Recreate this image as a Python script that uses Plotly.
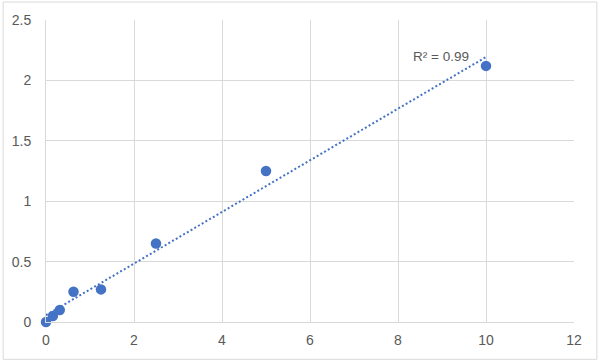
import numpy as np
import plotly.graph_objects as go

x_vals = [0, 0.156, 0.3125, 0.625, 1.25, 2.5, 5, 10]
y_vals = [0, 0.05, 0.10, 0.25, 0.27, 0.65, 1.25, 2.12]
r2_label = "R² = 0.99"

slope, intercept = np.polyfit(x_vals, y_vals, 1)
tx = [0, 10]
ty = [intercept + slope * v for v in tx]

color = "#4472C4"
font_family = "Liberation Sans, Arial"
fig = go.Figure()
fig.add_trace(go.Scatter(x=tx, y=ty, mode="lines",
                         line=dict(color=color, width=2, dash="2px,2.3px"),
                         hoverinfo="skip", showlegend=False, cliponaxis=False))
fig.add_trace(go.Scatter(x=x_vals, y=y_vals, mode="markers",
                         marker=dict(color=color, size=10.5), showlegend=False,
                         cliponaxis=False))

W, H = 600, 361
ml, mr, mt, mb = 44, 26, 19, 39.4
pw, ph = W - ml - mr, H - mt - mb

fig.add_annotation(x=10, y=ty[1], xref="x", yref="y", text=r2_label,
                   showarrow=False, xanchor="right", yanchor="middle",
                   xshift=-15, yshift=1,
                   font=dict(size=13.5, color="#595959", family=font_family))

# chart-area border
fig.add_shape(type="rect", xref="paper", yref="paper",
              x0=(1 - ml) / pw, x1=(597 - ml) / pw,
              y0=(H - mb - 359) / ph, y1=(H - mb - 1) / ph,
              line=dict(color="#D9D9D9", width=1), fillcolor="rgba(0,0,0,0)", layer="below")

axis_common = dict(showgrid=True, gridcolor="#D9D9D9", gridwidth=1,
                   zeroline=False, showline=True, linecolor="#D9D9D9", linewidth=1,
                   ticks="", tickfont=dict(size=14, color="#595959", family=font_family),
                   mirror=False, fixedrange=True)

fig.update_layout(
    width=W, height=H,
    margin=dict(l=ml, r=mr, t=mt, b=mb),
    paper_bgcolor="white", plot_bgcolor="white",
    xaxis=dict(range=[0, 12], tickvals=[0, 2, 4, 6, 8, 10, 12], ticklabelstandoff=5, **axis_common),
    yaxis=dict(range=[0, 2.5], tickvals=[0, 0.5, 1, 1.5, 2, 2.5],
               ticktext=["0", "0.5", "1", "1.5", "2", "2.5"], ticklabelstandoff=11, **axis_common),
)
fig.write_html("out.html")
